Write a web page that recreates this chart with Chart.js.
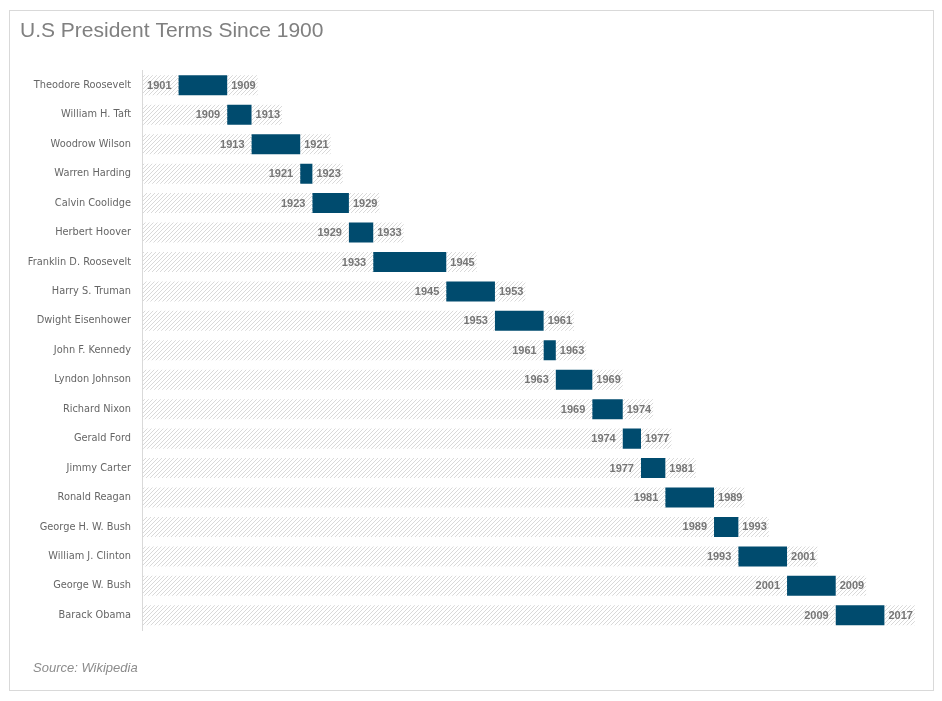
<!DOCTYPE html>
<html>
<head>
<meta charset="utf-8">
<script src="https://cdn.jsdelivr.net/npm/chart.js@4"></script>
<style>
    body { margin: 0; background: #fff; }
    #wrap { width: 942px; height: 701px; }
</style>
</head>
<body>
<div id="wrap"><canvas id="termsChart"></canvas></div>
<script>
const presidents = [
    'Theodore Roosevelt', 'William H. Taft', 'Woodrow Wilson', 'Warren Harding',
    'Calvin Coolidge', 'Herbert Hoover', 'Franklin D. Roosevelt', 'Harry S. Truman',
    'Dwight Eisenhower', 'John F. Kennedy', 'Lyndon Johnson', 'Richard Nixon',
    'Gerald Ford', 'Jimmy Carter', 'Ronald Reagan', 'George H. W. Bush',
    'William J. Clinton', 'George W. Bush', 'Barack Obama'
]
const startYears = [1901, 1909, 1913, 1921, 1923, 1929, 1933, 1945, 1953, 1961, 1963, 1969, 1974, 1977, 1981, 1989, 1993, 2001, 2009]
const endYears = [1909, 1913, 1921, 1923, 1929, 1933, 1945, 1953, 1961, 1963, 1969, 1974, 1977, 1981, 1989, 1993, 2001, 2009, 2017]

const axisMin = 1895
const axisMax = 2024
const labelRoom = 5 // years of hatched space after each term for the end label

// diagonal hatch like the excel pattern fill
function makeHatch() {
    const c = document.createElement('canvas')
    c.width = 4
    c.height = 4
    const g = c.getContext('2d')
    g.strokeStyle = '#d9d9d9'
    g.lineWidth = 1
    g.beginPath()
    g.moveTo(0, 4)
    g.lineTo(4, 0)
    g.moveTo(-1, 1)
    g.lineTo(1, -1)
    g.moveTo(3, 5)
    g.lineTo(5, 3)
    g.stroke()
    return g.createPattern(c, 'repeat')
}
const hatch = makeHatch()

// year labels either side of the blue bar
const yearLabels = {
    id: 'yearLabels',
    afterDatasetsDraw(chart) {
        const ctx = chart.ctx
        const meta = chart.getDatasetMeta(1)
        ctx.save()
        ctx.font = 'bold 11px "Liberation Sans", Arial, sans-serif'
        ctx.fillStyle = '#767676'
        ctx.textBaseline = 'middle'
        meta.data.forEach((bar, i) => {
            ctx.textAlign = 'right'
            ctx.fillText(String(startYears[i]), bar.base - 7, bar.y + 0.5)
            ctx.textAlign = 'left'
            ctx.fillText(String(endYears[i]), bar.x + 4, bar.y + 0.5)
        })
        ctx.restore()
    }
}

// outer frame and source note
const frame = {
    id: 'frame',
    afterDraw(chart) {
        const ctx = chart.ctx
        ctx.save()
        ctx.strokeStyle = '#d9d9d9'
        ctx.lineWidth = 1
        ctx.strokeRect(9.5, 10.5, 924, 680)
        ctx.font = 'italic 13px "Liberation Sans", Arial, sans-serif'
        ctx.fillStyle = '#8c8c8c'
        ctx.textBaseline = 'middle'
        ctx.fillText('Source: Wikipedia', 33, 668)
        ctx.restore()
    }
}

const termsData = {
    labels: presidents,
    datasets: [{
        label: 'Before',
        data: startYears.map(s => [axisMin, s]),
        backgroundColor: hatch
    }, {
        label: 'Term',
        data: startYears.map((s, i) => [s, endYears[i]]),
        backgroundColor: '#004b6e'
    }, {
        label: 'After',
        data: endYears.map(e => [e, e + labelRoom]),
        backgroundColor: hatch
    }]
}

const termsConfig = {
    type: 'bar',
    data: termsData,
    plugins: [yearLabels, frame],
    options: {
        indexAxis: 'y',
        responsive: true,
        maintainAspectRatio: false,
        animation: false,
        layout: {
            padding: { left: 20, right: 15, top: 12, bottom: 71 }
        },
        datasets: {
            bar: {
                categoryPercentage: 1,
                barPercentage: 0.68,
                grouped: false,
                borderWidth: 0
            }
        },
        scales: {
            x: {
                display: false,
                min: axisMin,
                max: axisMax
            },
            y: {
                afterFit: s => { s.width = 122 },
                grid: { display: false, drawTicks: false },
                border: { display: true, color: '#d9d9d9', width: 1 },
                ticks: {
                    padding: 11,
                    color: '#666666',
                    font: { family: '"DejaVu Sans", Verdana, sans-serif', size: 9.8 }
                }
            }
        },
        plugins: {
            legend: { display: false },
            tooltip: { enabled: false },
            title: {
                display: true,
                text: 'U.S President Terms Since 1900',
                align: 'start',
                color: '#808080',
                font: { family: '"Liberation Sans", Arial, sans-serif', size: 21, weight: 'normal' },
                padding: { top: 6.4, bottom: 27 }
            }
        }
    }
}

const termsChart = new Chart(
    document.getElementById('termsChart'),
    termsConfig
)
</script>
</body>
</html>
